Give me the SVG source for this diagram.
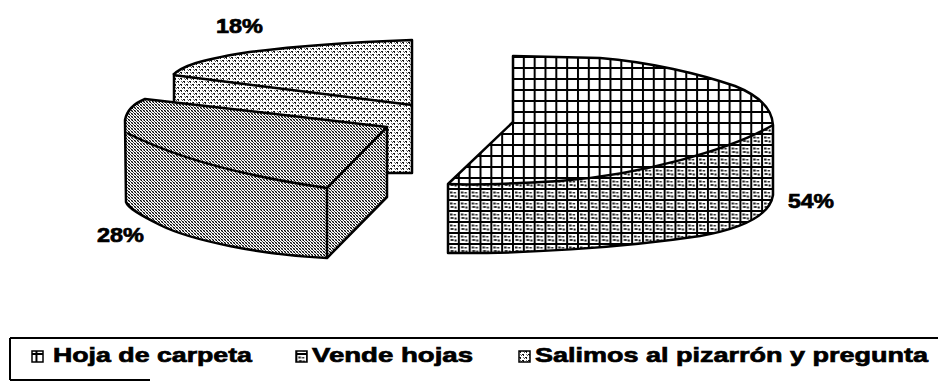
<svg xmlns="http://www.w3.org/2000/svg" width="938" height="381" viewBox="0 0 938 381">
<style>
.edge{stroke:#000;stroke-width:2.5;stroke-linejoin:round;fill:none}
.lbl{font-family:"Liberation Sans",Arial,sans-serif;font-weight:bold;fill:#000;stroke:#000;stroke-width:0.7}
.pct{font-size:21px}
.leg{font-size:21px}
</style>
<defs>
<pattern id="pDot18" patternUnits="userSpaceOnUse" width="6" height="6">
<rect width="6" height="6" fill="#fff"/>
<rect x="0" y="0" width="2" height="1" fill="#111"/>
<rect x="3" y="3" width="2" height="1" fill="#111"/>
<rect x="1" y="1" width="1" height="1" fill="#222"/>
<rect x="4" y="4" width="1" height="1" fill="#222"/>
<rect x="5" y="1" width="1" height="1" fill="#555"/>
<rect x="2" y="4" width="1" height="1" fill="#555"/>
<rect x="4" y="0" width="1" height="1" fill="#777"/>
<rect x="1" y="3" width="1" height="1" fill="#777"/>
</pattern>
<pattern id="pDot28" patternUnits="userSpaceOnUse" width="3" height="3">
<rect width="3" height="3" fill="#fff"/>
<rect x="0" y="0" width="1" height="1" fill="#000"/>
<rect x="1" y="1" width="1" height="1" fill="#444"/>
<rect x="2" y="2" width="1" height="1" fill="#000"/>
<rect x="0" y="2" width="1" height="1" fill="#888"/>
<rect x="2" y="0" width="1" height="1" fill="#aaa"/>
</pattern>
<pattern id="pGrid" patternUnits="userSpaceOnUse" x="512" y="56" width="10.83" height="11">
<rect width="10.83" height="11" fill="#fff"/>
<rect x="0" y="0" width="2" height="11" fill="#000"/>
<rect x="0" y="0" width="10.83" height="2" fill="#000"/>
</pattern>
<pattern id="pGridD" patternUnits="userSpaceOnUse" x="512" y="56" width="10.83" height="11">
<rect width="10.83" height="11" fill="#fff"/>
<rect x="0" y="0" width="2" height="11" fill="#000"/>
<rect x="0" y="0" width="10.83" height="2" fill="#000"/>
<rect x="3" y="3.5" width="2.5" height="2" fill="#222"/>
<rect x="6.5" y="4" width="2.5" height="1.5" fill="#333"/>
<rect x="3.5" y="7" width="3" height="2" fill="#333"/>
<rect x="7.5" y="7.5" width="2" height="2" fill="#111"/>
</pattern>
</defs>

<g id="slice-18">
<path d="M173,75 L412,105 L412,173 L387,173 L173,145 Z" fill="url(#pDot18)"/>
<path d="M173,75 C182,66 200,60 243,53 C300,45 360,42 412,40 L412,105 Z" fill="url(#pDot18)"/>
<path class="edge" d="M173,75 C182,66 200,60 243,53 C300,45 360,42 412,40 L412,173 L387,173"/>
<path class="edge" d="M173,75 L412,105"/>
<path class="edge" d="M174,75 L174,145"/>
<text class="lbl pct" x="216" y="33" textLength="47" lengthAdjust="spacingAndGlyphs">18%</text>
</g>

<g id="slice-28">
<path d="M145,99 L387,127 L327,188 Q200,170 127,133 L125,120 C127,110 135,103 145,99 Z" fill="url(#pDot28)"/>
<path d="M127,133 Q200,170 327,188 L327,258 C260,255 190,240 160,225 C140,215 128,208 126,202 L125,120 Z" fill="url(#pDot28)"/>
<path d="M327,188 L387,127 L387,197 L327,258 Z" fill="url(#pDot28)"/>
<path class="edge" d="M145,99 L387,127 L387,197 L327,258 C260,255 190,240 160,225 C140,215 128,208 126,202 L125,120 C127,110 135,103 145,99 Z"/>
<path class="edge" d="M127,133 Q200,170 327,188 L387,127"/>
<path class="edge" d="M327,188 L327,258"/>
<text class="lbl pct" x="97" y="242" textLength="47" lengthAdjust="spacingAndGlyphs">28%</text>
</g>

<g id="slice-54">
<path d="M513,56 L600,58 C650,62 700,74 735,86 C760,96 772,110 773,125 C730,150 640,175 560,181 C510,184 470,185 448,184 L513,122 Z" fill="url(#pGrid)"/>
<path d="M448,184 C470,185 510,184 560,181 C640,175 730,150 773,125 L773,195 C770,215 745,228 700,236 C620,248 520,254 448,253 Z" fill="url(#pGridD)"/>
<path class="edge" d="M513,122 L513,56 L600,58 C650,62 700,74 735,86 C760,96 772,110 773,125 L773,195 C770,215 745,228 700,236 C620,248 520,254 448,253 L448,184 L513,122"/>
<path class="edge" d="M448,184 C470,185 510,184 560,181 C640,175 730,150 773,125"/>
<text class="lbl pct" x="788" y="208" textLength="46" lengthAdjust="spacingAndGlyphs">54%</text>
</g>

<g id="legend">
<path d="M10,338 L938,338 M10,338 L10,380 M10,380 L150,380" stroke="#000" stroke-width="2" fill="none"/>
<rect x="32" y="351" width="11" height="11" fill="url(#pGrid)" stroke="#000" stroke-width="1.5"/>
<text class="lbl leg" x="53" y="362" textLength="199" lengthAdjust="spacingAndGlyphs">Hoja de carpeta</text>
<rect x="296" y="351" width="11" height="11" fill="url(#pGridD)" stroke="#000" stroke-width="1.5"/>
<text class="lbl leg" x="312" y="362" textLength="161" lengthAdjust="spacingAndGlyphs">Vende hojas</text>
<rect x="519" y="351" width="11" height="11" fill="url(#pDot18)" stroke="#000" stroke-width="1.5"/>
<text class="lbl leg" x="535" y="362" textLength="393" lengthAdjust="spacingAndGlyphs">Salimos al pizarrón y pregunta</text>
</g>
</svg>
